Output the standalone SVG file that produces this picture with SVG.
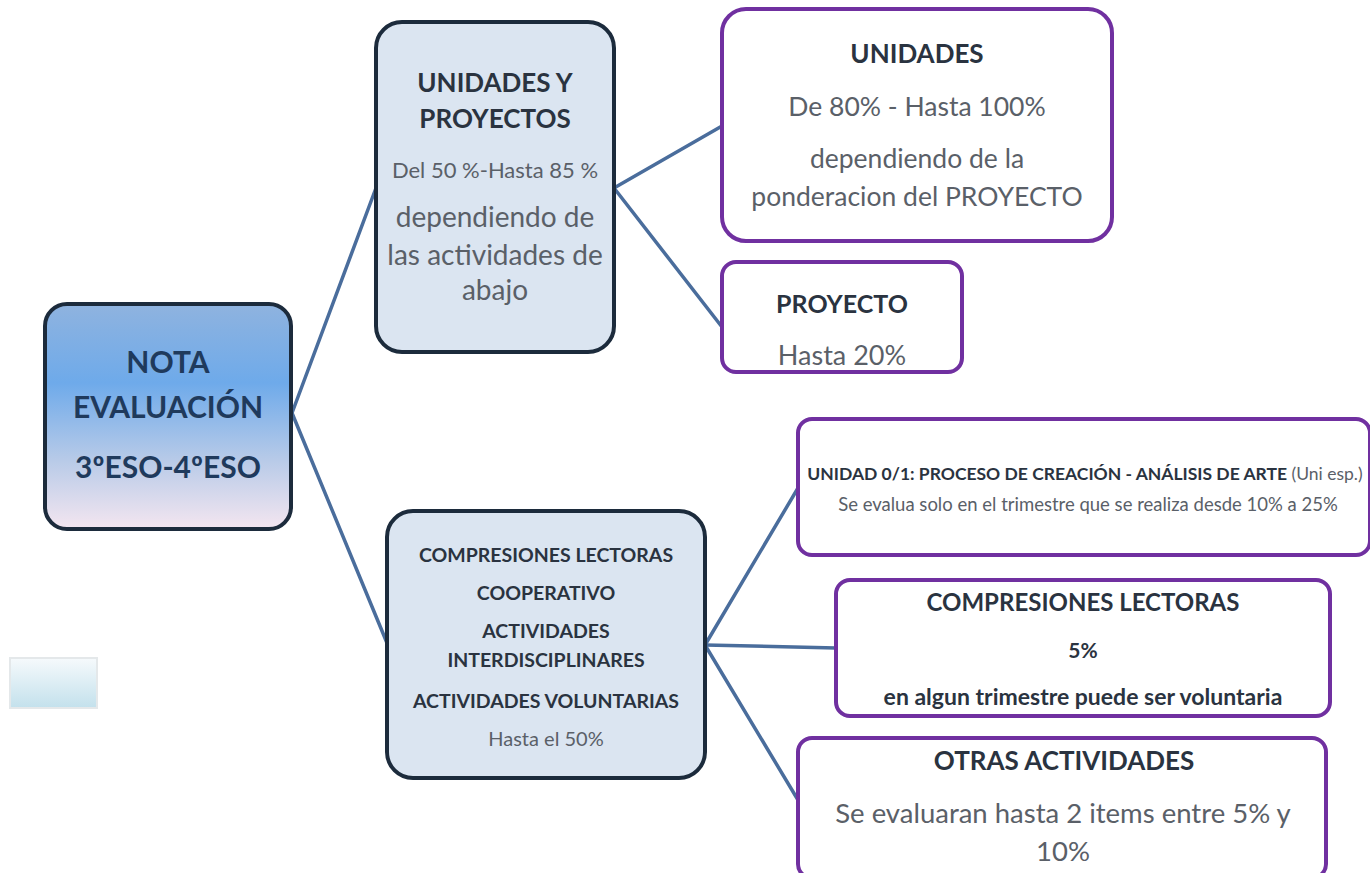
<svg xmlns="http://www.w3.org/2000/svg" width="1370" height="873" viewBox="0 0 1370 873">
<defs>
<linearGradient id="gRoot" x1="0" y1="0" x2="0" y2="1">
<stop offset="0" stop-color="#8fb3df"/>
<stop offset="0.35" stop-color="#6eaaea"/>
<stop offset="0.7" stop-color="#b9cbe8"/>
<stop offset="1" stop-color="#f4e6f0"/>
</linearGradient>
<linearGradient id="gSmall" x1="0" y1="0" x2="0" y2="1">
<stop offset="0" stop-color="#f6fafc"/>
<stop offset="1" stop-color="#c3e1ec"/>
</linearGradient>
<style>
.dark{stroke:#1c2b3c;stroke-width:4}
.mid{fill:#dbe5f1}
.leaf{fill:#ffffff;stroke:#7030a0;stroke-width:4}
.conn{stroke:#4a6d9c;stroke-width:3.5;fill:none;stroke-linecap:round}
text{font-family:Lato,"Liberation Sans",sans-serif;text-anchor:middle}
.b{font-weight:bold;fill:#2a3340}
.r{fill:#5a6068}
.rootT{font-weight:bold;fill:#1f3a5c;font-size:30px}
</style>
</defs>
<rect width="1370" height="873" fill="#ffffff"/>
<g id="connectors">
<line class="conn" x1="292" y1="413" x2="376" y2="188"/>
<line class="conn" x1="292" y1="413" x2="387" y2="643"/>
<line class="conn" x1="614" y1="188" x2="722" y2="126"/>
<line class="conn" x1="614" y1="188" x2="722" y2="327"/>
<line class="conn" x1="705" y1="645" x2="798" y2="488"/>
<line class="conn" x1="705" y1="645" x2="836" y2="648"/>
<line class="conn" x1="705" y1="645" x2="798" y2="800"/>
</g>
<g id="node-root">
<rect class="dark" x="45" y="304" width="246" height="225" rx="22" fill="url(#gRoot)"/>
<text class="rootT" x="168" y="373">NOTA</text>
<text class="rootT" x="168" y="418">EVALUACIÓN</text>
<text class="rootT" x="168" y="478">3ºESO-4ºESO</text>
</g>
<g id="node-unidades-proyectos">
<rect class="dark mid" x="376" y="22" width="238" height="330" rx="26"/>
<text class="b" x="495" y="92" font-size="26">UNIDADES Y</text>
<text class="b" x="495" y="128" font-size="26">PROYECTOS</text>
<text class="r" x="495" y="178" font-size="22">Del 50 %-Hasta 85 %</text>
<text class="r" x="495" y="227" font-size="28">dependiendo de</text>
<text class="r" x="495" y="265" font-size="28">las actividades de</text>
<text class="r" x="495" y="300" font-size="28">abajo</text>
</g>
<g id="node-actividades">
<rect class="dark mid" x="387" y="511" width="318" height="267" rx="26"/>
<text class="b" x="546" y="562" font-size="19.5">COMPRESIONES LECTORAS</text>
<text class="b" x="546" y="600" font-size="19.5">COOPERATIVO</text>
<text class="b" x="546" y="638" font-size="19.5">ACTIVIDADES</text>
<text class="b" x="546" y="667" font-size="19.5">INTERDISCIPLINARES</text>
<text class="b" x="546" y="708" font-size="19.5">ACTIVIDADES VOLUNTARIAS</text>
<text class="r" x="546" y="746" font-size="20">Hasta el 50%</text>
</g>
<g id="node-unidades">
<rect class="leaf" x="722" y="9" width="390" height="232" rx="24"/>
<text class="b" x="917" y="63" font-size="26">UNIDADES</text>
<text class="r" x="917" y="116" font-size="26.5">De 80% - Hasta 100%</text>
<text class="r" x="917" y="168" font-size="26.5">dependiendo de la</text>
<text class="r" x="917" y="206" font-size="26.5">ponderacion del PROYECTO</text>
</g>
<g id="node-proyecto">
<rect class="leaf" x="722" y="262" width="240" height="110" rx="14"/>
<text class="b" x="842" y="313" font-size="25">PROYECTO</text>
<text class="r" x="842" y="365" font-size="27">Hasta 20%</text>
</g>
<g id="node-unidad01">
<rect class="leaf" x="798" y="419" width="572" height="136" rx="14"/>
<text x="1085" y="480" font-size="17.5"><tspan font-weight="bold" fill="#2a3340">UNIDAD 0/1: PROCESO DE CREACIÓN - ANÁLISIS DE ARTE</tspan><tspan fill="#5a6068"> (Uni esp.)</tspan></text>
<text class="r" x="1088" y="511" font-size="18.5">Se evalua solo en el trimestre que se realiza desde 10% a 25%</text>
</g>
<g id="node-compresiones">
<rect class="leaf" x="836" y="580" width="494" height="136" rx="14"/>
<text class="b" x="1083" y="611" font-size="24">COMPRESIONES LECTORAS</text>
<text class="b" x="1083" y="658" font-size="21">5%</text>
<text class="b" x="1083" y="705" font-size="23" fill="#3a4048">en algun trimestre puede ser voluntaria</text>
</g>
<g id="node-otras">
<rect class="leaf" x="798" y="738" width="528" height="140" rx="14"/>
<text class="b" x="1064" y="770" font-size="26">OTRAS ACTIVIDADES</text>
<text class="r" x="1063" y="823" font-size="27.5">Se evaluaran hasta 2 items entre 5% y</text>
<text class="r" x="1063" y="861" font-size="27.5">10%</text>
</g>
<g id="small-box">
<rect x="10" y="658" width="87" height="50" fill="url(#gSmall)" stroke="#e4e8ea" stroke-width="2"/>
</g>
</svg>
